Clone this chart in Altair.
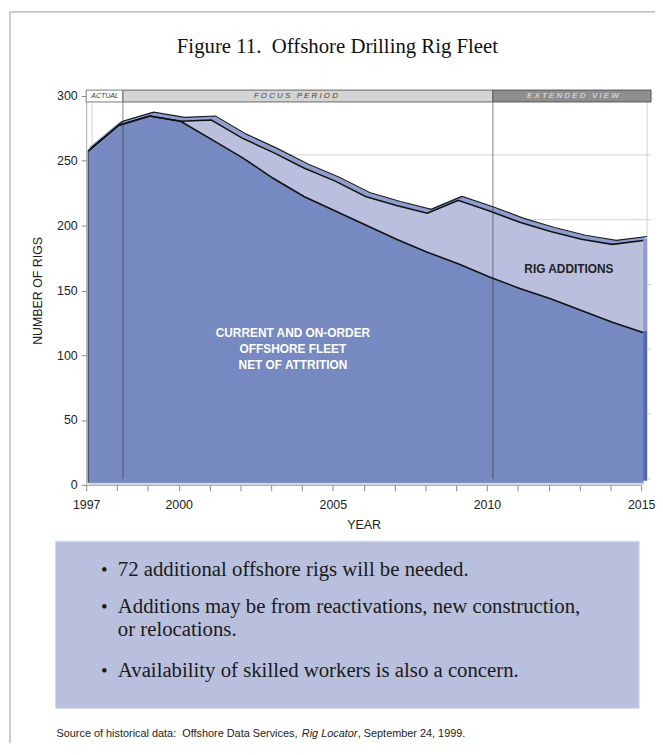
import altair as alt
import pandas as pd

# ---------------- data ----------------
years = list(range(1997, 2016))
total_fleet = [256, 276, 283, 279, 280, 266, 255, 243, 233, 221, 214, 208, 218, 210, 201, 194, 188, 184, 187]
current_fleet = [256, 276, 283, 279, 265, 251, 235, 221, 210, 199, 188, 178, 169, 159, 150, 142, 133, 124, 116]
y_ticks = [0, 50, 100, 150, 200, 250, 300]
x_labels = [1997, 2000, 2005, 2010, 2015]
NB = "\u00a0"
period_names = ["ACTUAL", "F O C U S" + NB * 3 + "P E R I O D", "E X T E N D E D" + NB * 3 + "V I E W"]
period_start = [1997, 1998, 2010]
period_end = [1998, 2010, 2015]
dividers = [1998, 2010]
fleet_label = ["CURRENT AND ON-ORDER", "OFFSHORE FLEET", "NET OF ATTRITION"]
additions_label = "RIG ADDITIONS"
title_text = "Figure 11." + NB * 2 + "Offshore Drilling Rig Fleet"
bullet_lines = [
    "72 additional offshore rigs will be needed.",
    "Additions may be from reactivations, new construction,",
    "or relocations.",
    "Availability of skilled workers is also a concern.",
]
source_parts = ["Source of historical data:" + NB * 2 + "Offshore Data Services,", "Rig Locator", ", September 24, 1999."]

W, H = 561, 393
SANS = "Liberation Sans"
SERIF = "Liberation Serif"

df = pd.DataFrame({"year": years, "total": total_fleet, "current": current_fleet})
df["zero"] = 0
last = df[df.year == 2015]
first = df[df.year == 1997]

xs = alt.Scale(domain=[1997, 2015], nice=False, zero=False)
ys = alt.Scale(domain=[0, 300], nice=False)

label_list = ",".join(str(v) for v in x_labels)
x_axis = alt.Axis(
    values=years, format="d",
    labelExpr=f"indexof([{label_list}], datum.value) >= 0 ? datum.label : ''",
    tickSize=6, tickColor="#888", domainColor="#999", labelFlush=False,
    labelFont=SANS, labelFontSize=12.5, labelColor="#222", labelPadding=8,
    title="YEAR", titleFont=SANS, titleFontSize=12.5, titleFontWeight="normal",
    titleColor="#222", titlePadding=8, grid=False,
)
y_axis = alt.Axis(
    values=y_ticks, tickSize=5, tickColor="#888", domainColor="#aaa",
    labelFont=SANS, labelFontSize=12.5, labelColor="#222", labelPadding=4,
    title="NUMBER OF RIGS", titleFont=SANS, titleFontSize=12.5, titleFontWeight="normal",
    titleColor="#222", titlePadding=12, grid=False,
)

X = lambda f: alt.X(f, type="quantitative", scale=xs, axis=x_axis)
Y = lambda f: alt.Y(f, type="quantitative", scale=ys, axis=y_axis)

one = alt.Data(values=[{"a": 1}])


def ptext(txt, px, py, **kw):
    return alt.Chart(one).mark_text(text=txt, **kw).encode(x=alt.value(px), y=alt.value(py))


# frame lines around figure
frame_left = alt.Chart(one).mark_rule(color="#9a9a9a", strokeWidth=1).encode(
    x=alt.value(-77), y=alt.value(-85), y2=alt.value(660))
frame_top = alt.Chart(one).mark_rule(color="#9a9a9a", strokeWidth=1).encode(
    x=alt.value(-77), x2=alt.value(600), y=alt.value(-85))

# back wall gridlines
grid_df = pd.DataFrame({"v": y_ticks[1:-1], "x0": 1997, "x1": 2015})
grid = alt.Chart(grid_df).mark_rule(color="#cfcfcf", xOffset=6, x2Offset=6, yOffset=-6).encode(
    x=X("x0"), x2="x1", y=Y("v"))
wall_df = pd.DataFrame({"x": [1997, 2015], "y0": 0, "y1": 300})
walls = alt.Chart(wall_df).mark_rule(color="#cfcfcf", xOffset=6, yOffset=-6, y2Offset=-6).encode(
    x=X("x"), y=Y("y0"), y2="y1")
rtick_df = pd.DataFrame({"v": y_ticks, "x0": 2015})
rticks = alt.Chart(rtick_df).mark_tick(color="#bbb", orient="horizontal", size=4, xOffset=8, yOffset=-6).encode(
    x=X("x0"), y=Y("v"))

# floor
floor_df = pd.DataFrame({"x0": [1997], "x1": [2015], "y": [0]})
floor = alt.Chart(floor_df).mark_rule(color="#d2d2d2", strokeWidth=6, xOffset=3, x2Offset=3, yOffset=-3).encode(
    x=X("x0"), x2="x1", y=Y("y"))

area_total = alt.Chart(df).mark_area(color="#b9bfdd", xOffset=2, yOffset=-2, y2Offset=-2).encode(
    x=X("year"), y=Y("total"), y2="zero")
area_current = alt.Chart(df).mark_area(color="#7689c0", xOffset=2, yOffset=-2, y2Offset=-2).encode(
    x=X("year"), y=Y("current"), y2="zero")

side_low = alt.Chart(last).mark_rule(color="#4f6bad", strokeWidth=4, xOffset=4, yOffset=-4, y2Offset=-4).encode(
    x=X("year"), y=Y("zero"), y2="current")
side_high = alt.Chart(last).mark_rule(color="#8e9bd0", strokeWidth=4, xOffset=4, yOffset=-4, y2Offset=-4).encode(
    x=X("year"), y=Y("current"), y2="total")

ribbon = alt.Chart(df).mark_line(color="#8e9dd2", strokeWidth=4, xOffset=4, yOffset=-4, strokeJoin="round").encode(
    x=X("year"), y=Y("total"))
edge_back = alt.Chart(df).mark_line(color="#1a1a1a", strokeWidth=1.2, xOffset=6, yOffset=-6).encode(
    x=X("year"), y=Y("total"))
edge_front = alt.Chart(df).mark_line(color="#111", strokeWidth=1.6, xOffset=2, yOffset=-2).encode(
    x=X("year"), y=Y("total"))
edge_current = alt.Chart(df).mark_line(color="#111", strokeWidth=1.6, xOffset=2, yOffset=-2).encode(
    x=X("year"), y=Y("current"))
edge_left = alt.Chart(first).mark_rule(color="#333", strokeWidth=1, xOffset=2, yOffset=-2, y2Offset=-2).encode(
    x=X("year"), y=Y("zero"), y2="total")

div_df = pd.DataFrame({"x": dividers, "y0": 0, "y1": 300})
div_lines = alt.Chart(div_df).mark_rule(color="#333", opacity=0.6, strokeWidth=1, xOffset=6, yOffset=-6, y2Offset=-6).encode(
    x=X("x"), y=Y("y0"), y2="y1")

# header bands
band_df = pd.DataFrame({"name": period_names, "x0": period_start, "x1": period_end})
band_a = alt.Chart(band_df.iloc[[0]]).mark_rect(fill="#ffffff", stroke="#777", strokeWidth=1, x2Offset=6).encode(
    x=X("x0"), x2="x1", y=alt.value(-6), y2=alt.value(6))
band_f = alt.Chart(band_df.iloc[[1]]).mark_rect(fill="#d4d4d4", stroke="#666", strokeWidth=1, xOffset=6, x2Offset=6).encode(
    x=X("x0"), x2="x1", y=alt.value(-6), y2=alt.value(6))
band_e = alt.Chart(band_df.iloc[[2]]).mark_rect(fill="#8e8e8e", stroke="#555", strokeWidth=1, xOffset=6, x2Offset=10).encode(
    x=X("x0"), x2="x1", y=alt.value(-6), y2=alt.value(6))
band_text_a = ptext(period_names[0], 19, 0.5, font=SANS, fontSize=7, fontStyle="italic", color="#333")
band_text_f = ptext(period_names[1], 212, 0.5, font=SANS, fontSize=8, fontStyle="italic", color="#444")
band_text_e = ptext(period_names[2], 492, 0.5, font=SANS, fontSize=8, fontStyle="italic", color="#e8e8e8")

# annotations
ann_fleet = ptext(fleet_label, 209, 240, font=SANS, fontSize=12, fontWeight="bold",
                  color="white", lineHeight=16, baseline="middle")
ann_add = ptext(additions_label, 488, 175, font=SANS, fontSize=12, fontWeight="bold", color="#222")

title = ptext(title_text, 254, -49, font=SERIF, fontSize=21, color="#111")

# bottom box with bullets
box = alt.Chart(one).mark_rect(fill="#b9c0dd", stroke="#d6dbec", strokeWidth=1).encode(
    x=alt.value(-31), x2=alt.value(559), y=alt.value(450), y2=alt.value(619))
bullet_y = [479, 517, 540, 581]
bullet_layers = [ptext(t, 32, py, font=SERIF, fontSize=21, color="#1a1a1a", align="left")
                 for t, py in zip(bullet_lines, bullet_y)]
dot_layers = [ptext("•", 15, py, font=SERIF, fontSize=19, color="#1a1a1a", align="left")
              for py in [479, 517, 581]]

src_a = ptext(source_parts[0], -30, 645, font=SANS, fontSize=11, color="#222", align="left")
src_b = ptext(source_parts[1], 218, 645, font=SANS, fontSize=11, fontStyle="italic", color="#222", align="left")
src_c = ptext(source_parts[2], 274.5, 645, font=SANS, fontSize=11, color="#222", align="left")

chart = alt.layer(
    frame_left, frame_top, grid, walls, rticks, floor,
    area_total, area_current, side_low, side_high,
    ribbon, edge_back, edge_front, edge_current, edge_left, div_lines,
    band_a, band_f, band_e, band_text_a, band_text_f, band_text_e,
    ann_fleet, ann_add, title, box, *bullet_layers, *dot_layers, src_a, src_b, src_c,
).properties(
    width=W, height=H,
    autosize=alt.AutoSizeParams(type="none"),
    padding={"left": 79, "top": 85, "right": 14, "bottom": 257},
    background="white",
).configure_view(stroke=None)

chart.save("out.html", embed_options={"renderer": "svg", "actions": False})
